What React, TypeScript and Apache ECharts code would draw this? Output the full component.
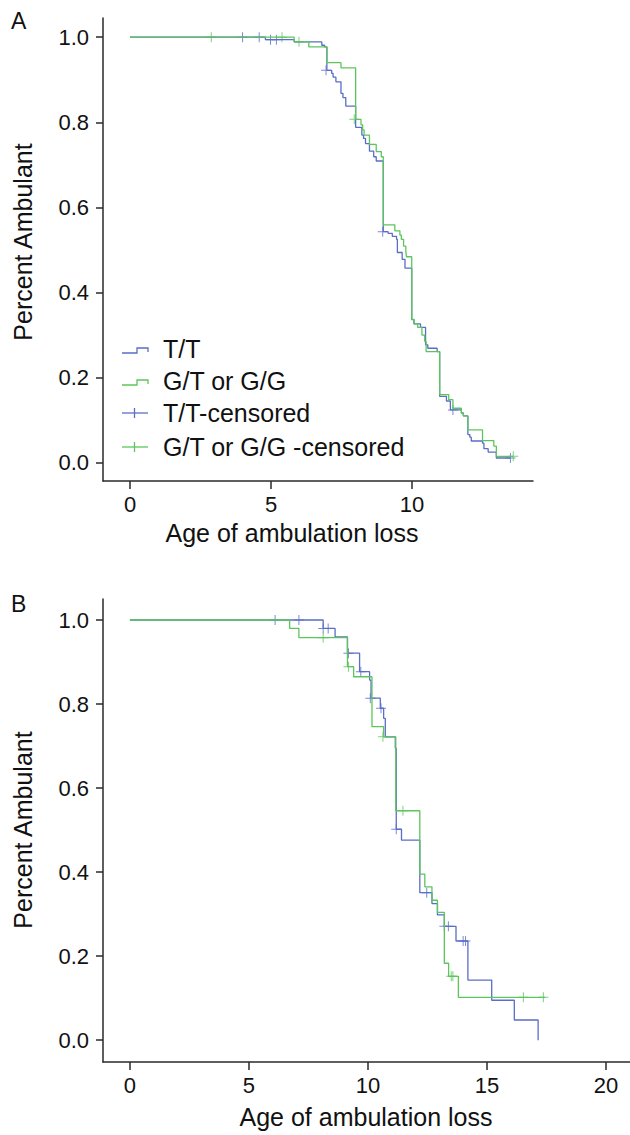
import React, { useEffect, useRef } from "react";
import * as echarts from "echarts";

// ---------- Panel A data (Kaplan-Meier steps: [age, survival]) ----------
const aTT: number[][] = [
  [0, 1], [4.8, 0.994], [5.82, 0.989], [6.8, 0.981], [6.9, 0.977], [6.98, 0.922],
  [7.15, 0.915], [7.2, 0.906], [7.3, 0.895], [7.48, 0.868], [7.55, 0.858], [7.65, 0.838],
  [8.0, 0.788], [8.22, 0.77], [8.28, 0.762], [8.35, 0.75], [8.49, 0.732], [8.64, 0.719],
  [8.73, 0.709], [8.98, 0.543], [9.15, 0.539], [9.3, 0.532], [9.45, 0.525], [9.48, 0.494],
  [9.65, 0.478], [9.75, 0.457], [9.99, 0.336], [10.07, 0.326], [10.3, 0.318], [10.48, 0.277],
  [10.56, 0.269], [10.89, 0.261], [10.98, 0.156], [11.22, 0.145], [11.36, 0.124], [11.75, 0.117],
  [11.82, 0.11], [11.98, 0.066], [12.05, 0.06], [12.1, 0.051], [12.5, 0.046], [12.55, 0.033],
  [12.7, 0.025], [12.99, 0.011], [13.49, 0.011],
];
const aGG: number[][] = [
  [0, 1], [5.82, 0.989], [6.34, 0.977], [6.98, 0.94], [7.48, 0.928], [8.0, 0.807],
  [8.19, 0.794], [8.25, 0.782], [8.3, 0.77], [8.49, 0.748], [8.73, 0.731], [8.91, 0.719],
  [8.98, 0.559], [9.39, 0.545], [9.57, 0.535], [9.62, 0.525], [9.7, 0.509], [9.78, 0.496],
  [9.8, 0.484], [9.99, 0.337], [10.07, 0.326], [10.2, 0.318], [10.35, 0.3], [10.45, 0.285],
  [10.5, 0.261], [10.98, 0.16], [11.3, 0.148], [11.45, 0.128], [11.75, 0.116], [11.82, 0.11],
  [11.98, 0.077], [12.5, 0.052], [12.9, 0.039], [12.99, 0.015], [13.59, 0.015],
];
const aTTCens: number[][] = [
  [3.99, 1], [4.58, 1], [4.98, 0.994], [5.19, 0.994], [6.95, 0.922], [8.96, 0.543],
  [11.45, 0.124], [13.49, 0.011],
];
const aGGCens: number[][] = [
  [2.88, 1], [5.39, 1], [5.99, 0.989], [7.95, 0.807], [13.59, 0.015],
];

// ---------- Panel B data ----------
const bTT: number[][] = [
  [0, 1], [8.12, 0.98], [8.62, 0.96], [9.14, 0.921], [9.65, 0.877], [10.07, 0.857],
  [10.13, 0.814], [10.52, 0.79], [10.66, 0.766], [10.73, 0.722], [11.15, 0.695], [11.19, 0.502],
  [11.41, 0.476], [12.18, 0.351], [12.69, 0.325], [12.92, 0.298], [13.21, 0.271], [13.7, 0.236],
  [14.2, 0.143], [15.2, 0.095], [16.15, 0.048], [17.15, 0.0],
];
const bGG: number[][] = [
  [0, 1], [6.71, 0.98], [7.1, 0.958], [9.14, 0.889], [9.4, 0.865], [10.17, 0.746],
  [10.66, 0.722], [11.17, 0.546], [12.18, 0.395], [12.39, 0.365], [12.69, 0.333], [12.92, 0.304],
  [13.21, 0.183], [13.39, 0.152], [13.8, 0.102], [17.45, 0.102],
];
const bTTCens: number[][] = [
  [6.1, 1], [7.1, 1], [8.12, 0.98], [8.33, 0.98], [9.18, 0.921], [9.7, 0.877],
  [10.1, 0.814], [10.55, 0.79], [11.19, 0.502], [12.47, 0.351], [13.21, 0.271], [13.38, 0.271],
  [14.0, 0.236], [14.1, 0.236],
];
const bGGCens: number[][] = [
  [8.12, 0.958], [9.18, 0.889], [10.63, 0.722], [11.47, 0.546], [13.5, 0.152], [13.57, 0.152],
  [16.53, 0.102], [17.37, 0.102],
];

const xTicksA = [0, 5, 10];
const xTicksB = [0, 5, 10, 15, 20];
const yTicks = [0, 0.2, 0.4, 0.6, 0.8, 1.0];
const legendLabels = ["T/T", "G/T or G/G", "T/T-censored", "G/T or G/G -censored"];
const xTitle = "Age of ambulation loss";
const yTitle = "Percent Ambulant";

const BLUE = "#5a6ec6";
const GREEN = "#5cc65c";
const AXIS = "#2a2a2a";
const FONT = "'Liberation Sans', Arial, Helvetica, sans-serif";
const PLUS = "path://M4.5,0H5.5V4.5H10V5.5H5.5V10H4.5V5.5H0V4.5H4.5Z";

function xAxisCfg(gridIndex: number, min: number, max: number, ticks: number[]) {
  return {
    type: "value",
    gridIndex,
    min,
    max,
    axisLine: { show: true, onZero: false, lineStyle: { color: AXIS, width: 1.5 } },
    axisTick: { show: true, length: 8, customValues: ticks, lineStyle: { color: AXIS, width: 1.5 } },
    axisLabel: { customValues: ticks, fontSize: 22, color: "#111", margin: 12, fontFamily: FONT },
    splitLine: { show: false },
  };
}
function yAxisCfg(gridIndex: number, min: number, max: number) {
  return {
    type: "value",
    gridIndex,
    min,
    max,
    axisLine: { show: true, onZero: false, lineStyle: { color: AXIS, width: 1.5 } },
    axisTick: { show: true, length: 7, customValues: yTicks, lineStyle: { color: AXIS, width: 1.5 } },
    axisLabel: {
      customValues: yTicks,
      fontSize: 22,
      color: "#111",
      margin: 14,
      fontFamily: FONT,
      formatter: (v: number) => v.toFixed(1),
    },
    splitLine: { show: false },
  };
}
function stepSeries(data: number[][], color: string, idx: number) {
  return {
    type: "line",
    xAxisIndex: idx,
    yAxisIndex: idx,
    step: "end",
    data,
    showSymbol: false,
    symbol: "none",
    lineStyle: { color, width: 1.3 },
    silent: true,
  };
}
function censSeries(data: number[][], color: string, idx: number) {
  return {
    type: "scatter",
    xAxisIndex: idx,
    yAxisIndex: idx,
    data,
    symbol: PLUS,
    symbolSize: 10,
    itemStyle: { color },
    silent: true,
  };
}

function legendGraphics() {
  const rows = [349, 381, 413, 447];
  const out: any[] = [];
  [[BLUE, rows[0]], [GREEN, rows[1]]].forEach(([c, y]: any) => {
    out.push({
      type: "polyline",
      shape: { points: [[122, y + 4], [137, y + 4], [137, y - 1], [148, y - 1], [148, y + 3]] },
      style: { stroke: c, lineWidth: 1.3, fill: "none" },
    });
  });
  [[BLUE, rows[2]], [GREEN, rows[3]]].forEach(([c, y]: any) => {
    out.push({
      type: "polyline",
      shape: { points: [[122, y], [148, y]] },
      style: { stroke: c, lineWidth: 1.3, fill: "none" },
    });
    out.push({
      type: "line",
      shape: { x1: 134.5, y1: y - 5, x2: 134.5, y2: y + 5 },
      style: { stroke: c, lineWidth: 1.3 },
    });
  });
  legendLabels.forEach((t, i) => {
    out.push({
      type: "text",
      x: 163,
      y: rows[i],
      style: { text: t, fontSize: 25, fontFamily: FONT, fill: "#111", align: "left", verticalAlign: "middle" },
    });
  });
  return out;
}

export default function App() {
  const ref = useRef<HTMLDivElement>(null);
  useEffect(() => {
    document.body.style.margin = "0";
    const chart = echarts.init(ref.current!, null, { renderer: "svg" });
    const textStyle = (t: string, size: number) => ({
      text: t,
      fontSize: size,
      fontFamily: FONT,
      fill: "#111",
      align: "center",
      verticalAlign: "middle",
    });
    chart.setOption({
      animation: false,
      backgroundColor: "#fff",
      grid: [
        { left: 103, top: 18, width: 430, height: 463 },
        { left: 103, top: 599, width: 527, height: 463 },
      ],
      xAxis: [xAxisCfg(0, -0.96, 14.29, xTicksA), xAxisCfg(1, -1.13, 21.01, xTicksB)],
      yAxis: [yAxisCfg(0, -0.043, 1.045), yAxisCfg(1, -0.052, 1.05)],
      series: [
        stepSeries(aTT, BLUE, 0),
        stepSeries(aGG, GREEN, 0),
        censSeries(aTTCens, BLUE, 0),
        censSeries(aGGCens, GREEN, 0),
        stepSeries(bTT, BLUE, 1),
        stepSeries(bGG, GREEN, 1),
        censSeries(bTTCens, BLUE, 1),
        censSeries(bGGCens, GREEN, 1),
      ],
      graphic: [
        { type: "text", x: 11, y: 21, style: { ...textStyle("A", 23), align: "left" } },
        { type: "text", x: 11, y: 604, style: { ...textStyle("B", 23), align: "left" } },
        { type: "text", x: 23, y: 242, rotation: Math.PI / 2, style: textStyle(yTitle, 25) },
        { type: "text", x: 23, y: 830, rotation: Math.PI / 2, style: textStyle(yTitle, 25) },
        { type: "text", x: 292, y: 533, style: textStyle(xTitle, 25) },
        { type: "text", x: 366, y: 1117, style: textStyle(xTitle, 25) },
        ...legendGraphics(),
      ],
    });
    return () => chart.dispose();
  }, []);
  return <div ref={ref} style={{ width: 630, height: 1135 }} />;
}
